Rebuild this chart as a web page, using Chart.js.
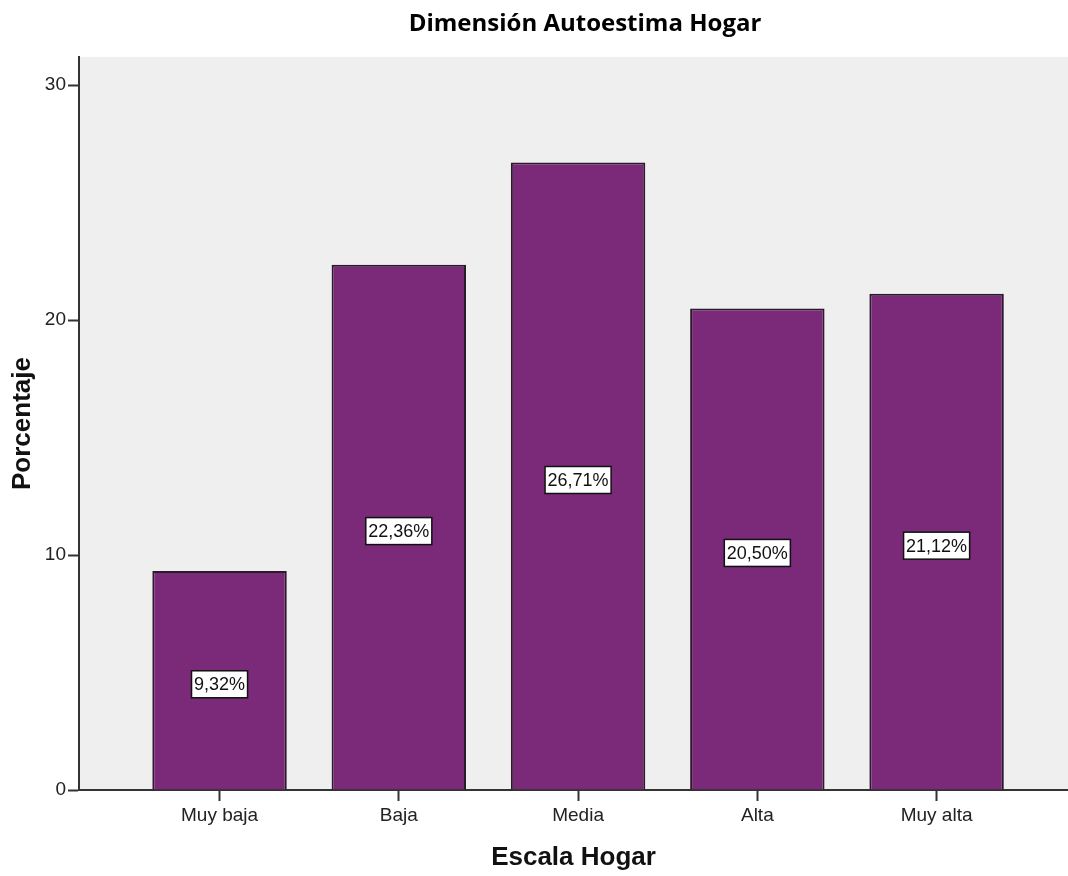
<!DOCTYPE html>
<html>
<head>
<meta charset="utf-8">
<script src="https://cdn.jsdelivr.net/npm/chart.js@4/dist/chart.umd.min.js"></script>
<style>
  html, body { margin: 0; padding: 0; background: #fff; }
  #wrap { width: 1068px; height: 876px; }
</style>
</head>
<body>
<div id="wrap"><canvas id="grafico"></canvas></div>
<script>
// datos del gráfico
const categorias = ['Muy baja', 'Baja', 'Media', 'Alta', 'Muy alta'];
const porcentajes = [9.32, 22.36, 26.71, 20.50, 21.12];
const marcasY = [0, 10, 20, 30];
const titulo = 'Dimensión Autoestima Hogar';

const fuente = "'Liberation Sans', Arial, sans-serif";

// fondo gris del área de trazado y título superior
const fondoPlot = {
    id: 'fondoPlot',
    beforeDraw(chart) {
        const a = chart.chartArea;
        const ctx = chart.ctx;
        ctx.save();
        ctx.fillStyle = '#efefef';
        ctx.fillRect(a.left, a.top, a.right - a.left, a.bottom - a.top);
        ctx.fillStyle = '#000';
        ctx.font = "bold 24px 'Open Sans', sans-serif";
        ctx.textAlign = 'center';
        ctx.textBaseline = 'middle';
        ctx.fillText(titulo, 585, 24);
        ctx.restore();
    }
};

// etiquetas con el porcentaje en el centro de cada barra
const etiquetas = {
    id: 'etiquetas',
    afterDatasetsDraw(chart) {
        const ctx = chart.ctx;
        const meta = chart.getDatasetMeta(0);
        ctx.save();
        ctx.font = '18px ' + fuente;
        ctx.textAlign = 'center';
        ctx.textBaseline = 'middle';
        meta.data.forEach((barra, i) => {
            const txt = porcentajes[i].toFixed(2).replace('.', ',') + '%';
            const w = ctx.measureText(txt).width + 5;
            const h = 27;
            const cx = barra.x;
            const cy = (barra.y + barra.base) / 2 + 4;
            ctx.fillStyle = '#ffffff';
            ctx.fillRect(cx - w / 2, cy - h / 2, w, h);
            ctx.strokeStyle = '#111';
            ctx.lineWidth = 1.5;
            ctx.strokeRect(cx - w / 2, cy - h / 2, w, h);
            ctx.fillStyle = '#111';
            ctx.fillText(txt, cx, cy + 1);
        });
        ctx.restore();
    }
};

new Chart(document.getElementById('grafico'), {
    type: 'bar',
    data: {
        datasets: [{
            data: categorias.map((c, i) => ({ x: i + 1, y: porcentajes[i] })),
            backgroundColor: '#7b2979',
            borderColor: '#2b1a2b',
            borderWidth: 2,
            barPercentage: 0.75,
            categoryPercentage: 1
        }]
    },
    options: {
        responsive: true,
        maintainAspectRatio: false,
        animation: false,
        layout: { padding: { top: 57, left: 0, right: 0, bottom: 0 } },
        plugins: {
            legend: { display: false },
            tooltip: { enabled: false },
            title: { display: false }
        },
        scales: {
            x: {
                type: 'linear',
                offset: false,
                min: 0.216,
                max: 5.733,
                afterFit(scale) { scale.height = 86; },
                afterBuildTicks(scale) {
                    scale.ticks = categorias.map((c, i) => ({ value: i + 1 }));
                },
                ticks: {
                    autoSkip: false,
                    maxRotation: 0,
                    padding: 3,
                    color: '#222',
                    font: { family: fuente, size: 19 },
                    callback: v => categorias[v - 1]
                },
                grid: { offset: false, drawOnChartArea: false, drawTicks: true, tickLength: 11, tickWidth: 2, color: '#333' },
                border: { display: true, color: '#333', width: 2 },
                title: {
                    display: true,
                    text: 'Escala Hogar',
                    color: '#111',
                    font: { family: fuente, size: 26, weight: 'bold', lineHeight: 1.2 },
                    padding: { top: 0, bottom: 3 }
                }
            },
            y: {
                min: 0,
                max: 31.2,
                afterFit(scale) { scale.width = 79; },
                afterBuildTicks(scale) {
                    scale.ticks = marcasY.map(v => ({ value: v }));
                },
                ticks: {
                    padding: 2,
                    color: '#222',
                    font: { family: fuente, size: 19 }
                },
                grid: { drawOnChartArea: false, drawTicks: true, tickLength: 11, tickWidth: 2, color: '#333' },
                border: { display: true, color: '#333', width: 2 },
                title: {
                    display: true,
                    text: 'Porcentaje',
                    color: '#111',
                    font: { family: fuente, size: 26, weight: 'bold', lineHeight: 1.2 },
                    padding: { top: 7, bottom: 0 }
                }
            }
        }
    },
    plugins: [fondoPlot, etiquetas]
});
</script>
</body>
</html>
